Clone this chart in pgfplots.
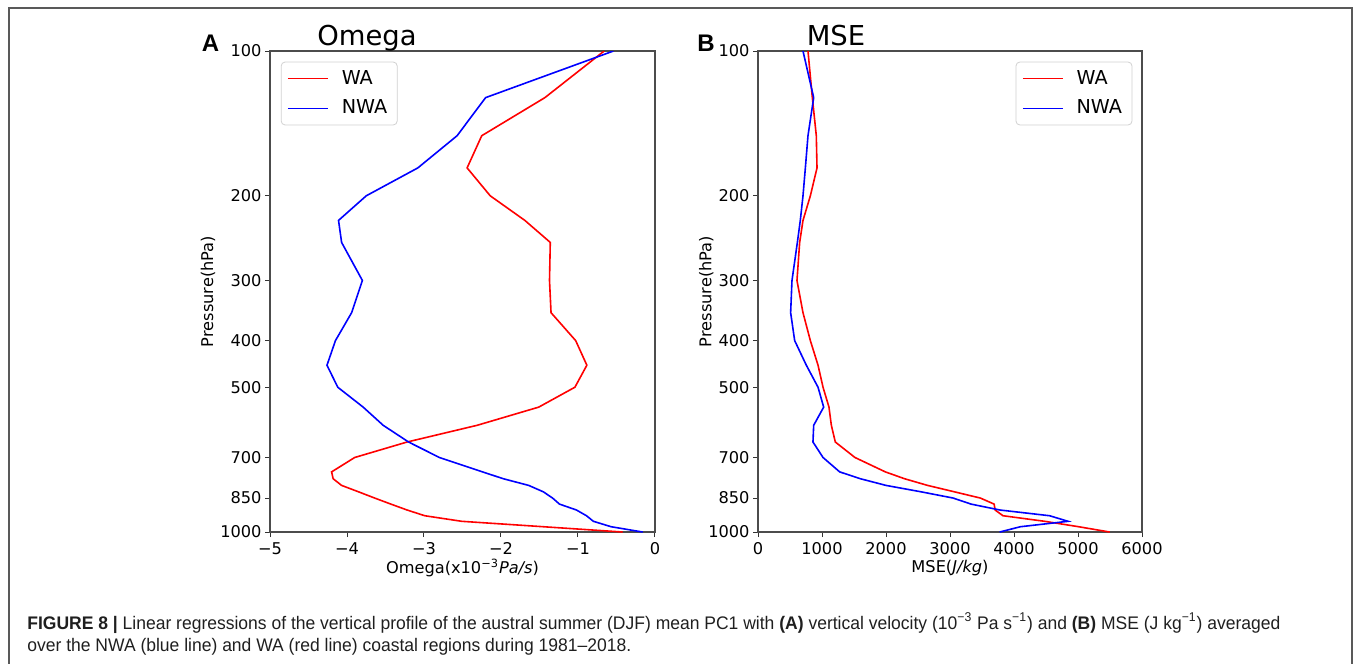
\documentclass[border=0pt]{standalone}
\usepackage{fontspec}
\setmainfont{DejaVu Sans}
\newfontfamily\capfont{Liberation Sans}
\usepackage{graphicx}
\usepackage{pgfplots}
\usepackage{pgfplotstable}
\pgfplotsset{compat=1.18}

\pgfplotstableread{
p wa nwa
100 -0.66 -0.54
125 -1.43 -2.20
150 -2.25 -2.57
175 -2.44 -3.08
200 -2.14 -3.75
225 -1.69 -4.11
250 -1.36 -4.07
300 -1.37 -3.80
350 -1.35 -3.94
400 -1.03 -4.15
450 -0.885 -4.26
500 -1.04 -4.12
550 -1.51 -3.79
600 -2.31 -3.53
650 -3.22 -3.20
700 -3.90 -2.80
750 -4.20 -2.24
775 -4.18 -1.97
800 -4.07 -1.64
825 -3.85 -1.45
850 -3.64 -1.33
875 -3.43 -1.24
900 -3.22 -1.02
925 -2.99 -0.89
950 -2.51 -0.80
975 -1.45 -0.57
1000 -0.42 -0.16
}\omegadata

\pgfplotstableread{
p wa nwa
100 781 703
125 849 870
150 911 781
175 922 740
200 818 703
225 703 661
250 651 615
300 609 531
350 703 510
400 818 573
450 938 755
500 1016 938
550 1109 1026
600 1146 870
650 1208 859
700 1515 1016
750 1990 1276
775 2290 1600
800 2650 2000
825 3070 2550
850 3475 3050
875 3690 3330
900 3705 3780
925 3828 4557
950 4480 4844
975 5010 4100
1000 5495 3776
}\msedata

\pgfplotsset{
  prof/.style={
    scale only axis, height=240.5pt,
    y dir=reverse, ymin=100, ymax=1000,
    ytick={100,200,300,400,500,700,850,1000},
    yticklabels={100,200,300,400,500,700,850,1000},
    tick align=outside, major tick length=2.5pt,
    xtick pos=left, ytick pos=left,
    tick style={black!80, line width=0.5pt},
    axis line style={line width=0.6pt, black!70},
    ticklabel style={font=\fontsize{8.1}{9}\selectfont, text=black},
    yticklabel style={xshift=1.8pt},
    xticklabel style={yshift=0.8pt},
    label style={font=\fontsize{8.1}{9}\selectfont},
    xlabel style={at={(axis description cs:0.5,-0.0749)}, anchor=center},
    legend cell align=left,
    legend style={font=\fontsize{9.6}{11}\selectfont, draw=black!18, rounded corners=2pt, inner xsep=3pt, inner ysep=2pt, row sep=2.5pt,
      /tikz/every odd column/.append style={column sep=4.5pt}},
    legend image code/.code={\draw[##1, line width=0.8pt] (0pt,0pt) -- (20pt,0pt);},
    every axis plot/.append style={line width=0.8pt},
  }
}
\newlength\capw
\def\capone{{\bfseries FIGURE 8 |} Linear regressions of the vertical profile of the austral summer (DJF) mean PC1 with {\bfseries (A)} vertical velocity (10\textsuperscript{−3} Pa s\textsuperscript{−1}) and {\bfseries (B)} MSE (J kg\textsuperscript{−1}) averaged}
\def\captwo{over the NWA (blue line) and WA (red line) coastal regions during 1981–2018.}

\begin{document}
\begin{tikzpicture}
\useasboundingbox (0,0) rectangle (677.5pt,-332pt);
\draw[black!65, line width=0.6pt] (4.5pt,-332pt) -- (4.5pt,-4pt) -- (676pt,-4pt) -- (676pt,-332pt);

\begin{axis}[ymode=log, prof, at={(135pt,-25.5pt)}, anchor=north west, width=192.5pt,
  xmin=-5, xmax=0, xtick={-5,-4,-3,-2,-1,0}, xticklabels={−5,−4,−3,−2,−1,0},
  xlabel={Omega(x10\textsuperscript{−3}\textit{Pa/s})},
  ylabel={Pressure(hPa)},
  ylabel style={at={(axis description cs:-0.161,0.5)}, anchor=center},
  legend style={at={(0.028,0.978)}, anchor=north west}]
\addplot[red] table[x=wa, y=p] {\omegadata};
\addplot[blue] table[x=nwa, y=p] {\omegadata};
\legend{WA,NWA}
\end{axis}

\begin{axis}[ymode=log, prof, at={(379pt,-25.5pt)}, anchor=north west, width=192pt,
  xmin=0, xmax=6000, xtick={0,1000,2000,3000,4000,5000,6000},
  xticklabels={0,1000,2000,3000,4000,5000,6000},
  xlabel={MSE(\textit{J/kg})},
  ylabel={Pressure(hPa)},
  ylabel style={at={(axis description cs:-0.135,0.5)}, anchor=center},
  legend style={at={(0.975,0.978)}, anchor=north east}]
\addplot[red] table[x=wa, y=p] {\msedata};
\addplot[blue] table[x=nwa, y=p] {\msedata};
\legend{WA,NWA}
\end{axis}

\node[anchor=base, font=\fontsize{13.7}{16}\selectfont] at (183.5pt,-23pt) {Omega};
\node[anchor=base, font=\fontsize{13.7}{16}\selectfont] at (418pt,-23pt) {MSE};
\node[anchor=base, font=\capfont\bfseries\fontsize{12}{14}\selectfont] at (105.25pt,-25.9pt) {A};
\node[anchor=base, font=\capfont\bfseries\fontsize{12}{14}\selectfont] at (353pt,-25.9pt) {B};

\node[anchor=base west, inner sep=0pt, font=\capfont\fontsize{9.1}{11}\selectfont, text=black!88] at (13.5pt,-314.5pt) {\settowidth\capw{\capone}\pgfmathsetmacro\capsx{626.5/\capw}\xdef\capsxg{\capsx}\scalebox{\capsx}[1]{\capone}};
\node[anchor=base west, inner sep=0pt, font=\capfont\fontsize{9.1}{11}\selectfont, text=black!88] at (13.5pt,-325.5pt) {\scalebox{\capsxg}[1]{\captwo}};
\end{tikzpicture}
\end{document}
